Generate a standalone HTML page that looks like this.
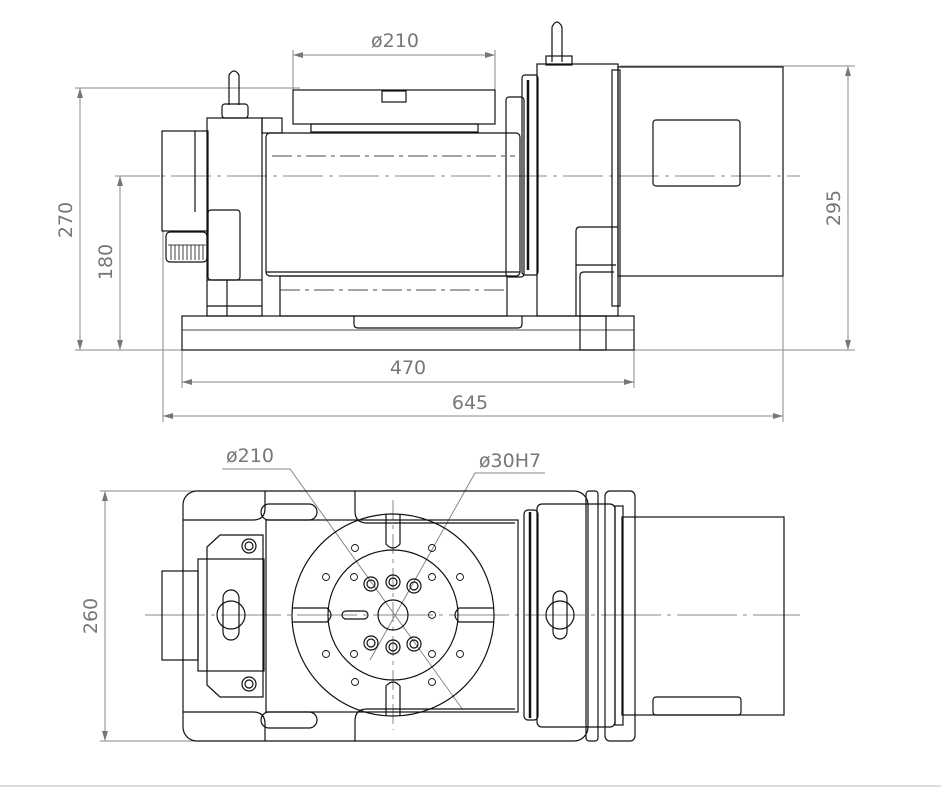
<!DOCTYPE html>
<html><head><meta charset="utf-8"><style>
html,body{margin:0;padding:0;background:#fff;}
svg{display:block;}
text{font-family:"DejaVu Sans","Liberation Sans",sans-serif;fill:#777;font-size:19px;}
</style></head><body>
<svg width="941" height="791" viewBox="0 0 941 791" xmlns="http://www.w3.org/2000/svg">
<defs>
<marker id="a" viewBox="0 0 10 6" refX="10" refY="3" markerWidth="10" markerHeight="6" orient="auto-start-reverse"><path d="M0,0L10,3L0,6z" fill="#777"/></marker>
</defs>
<g fill="none" stroke="#888" stroke-width="1">
<!-- top view dims -->
<line x1="293" y1="55" x2="495" y2="55" marker-start="url(#a)" marker-end="url(#a)"/>
<line x1="293" y1="50" x2="293" y2="90"/><line x1="495" y1="50" x2="495" y2="90"/>
<line x1="75" y1="88" x2="300" y2="88"/>
<line x1="75" y1="350" x2="855" y2="350"/>
<line x1="620" y1="66" x2="855" y2="66"/>
<line x1="115" y1="176" x2="160" y2="176"/>
<line x1="80" y1="88" x2="80" y2="350" marker-start="url(#a)" marker-end="url(#a)"/>
<line x1="120" y1="176" x2="120" y2="350" marker-start="url(#a)" marker-end="url(#a)"/>
<line x1="848" y1="66" x2="848" y2="350" marker-start="url(#a)" marker-end="url(#a)"/>
<line x1="182" y1="382" x2="634" y2="382" marker-start="url(#a)" marker-end="url(#a)"/>
<line x1="182" y1="350" x2="182" y2="388"/><line x1="634" y1="350" x2="634" y2="388"/>
<line x1="163" y1="416" x2="783" y2="416" marker-start="url(#a)" marker-end="url(#a)"/>
<line x1="163" y1="230" x2="163" y2="422"/><line x1="783" y1="276" x2="783" y2="422"/>
<line x1="115" y1="176" x2="800" y2="176" stroke-dasharray="40,6,4,6"/>
<!-- bottom view dims -->
<line x1="100" y1="491" x2="200" y2="491"/><line x1="100" y1="741" x2="200" y2="741"/>
<line x1="105" y1="491" x2="105" y2="741" marker-start="url(#a)" marker-end="url(#a)"/>
<polyline points="222,469 290,469 463,710"/>
<polyline points="545,473 475,473 370,660"/>
<line x1="145" y1="615" x2="800" y2="615" stroke-dasharray="60,6,4,6"/>
<line x1="393" y1="500" x2="393" y2="730" stroke-dasharray="20,5,4,5"/>
<line x1="0" y1="786" x2="941" y2="786" stroke="#ddd" stroke-width="2"/>
</g>
<text x="395" y="47" text-anchor="middle">ø210</text>
<text x="408" y="374" text-anchor="middle">470</text>
<text x="470" y="409" text-anchor="middle">645</text>
<text transform="translate(72,220) rotate(-90)" text-anchor="middle">270</text>
<text transform="translate(112,262) rotate(-90)" text-anchor="middle">180</text>
<text transform="translate(840,208) rotate(-90)" text-anchor="middle">295</text>
<text transform="translate(97,616) rotate(-90)" text-anchor="middle">260</text>
<text x="250" y="462" text-anchor="middle">ø210</text>
<text x="510" y="467" text-anchor="middle">ø30H7</text>

<g fill="none" stroke="#111" stroke-width="1.2">
<!-- TOP VIEW -->
<rect x="182" y="316" width="452" height="34"/>
<line x1="182" y1="330" x2="634" y2="330" stroke-width="0.8"/>
<path d="M354,316 v8 q0,4 4,4 h160 q4,0 4,-4 v-8"/>
<rect x="293" y="90" width="202" height="34"/>
<rect x="382" y="91" width="24" height="11"/>
<rect x="311" y="124" width="167" height="8"/>
<rect x="266" y="133" width="254" height="143" rx="4"/>
<line x1="266" y1="272" x2="520" y2="272"/>
<line x1="272" y1="156" x2="515" y2="156" stroke-dasharray="20,5,4,5" stroke-width="0.8"/>
<rect x="280" y="276" width="227" height="40"/>
<line x1="280" y1="290" x2="507" y2="290" stroke-dasharray="20,5,4,5" stroke-width="0.8"/>
<rect x="207" y="118" width="55" height="198"/>
<line x1="207" y1="280" x2="262" y2="280"/><line x1="207" y1="306" x2="262" y2="306"/>
<line x1="227" y1="280" x2="227" y2="316"/>
<rect x="208" y="210" width="32" height="70" rx="3"/>
<rect x="162" y="131" width="46" height="100"/>
<line x1="195" y1="131" x2="195" y2="212"/>
<rect x="166" y="232" width="41" height="30" rx="4"/>
<path d="M168,245 h38 M171,245 v15 M175,245 v15 M179,245 v15 M183,245 v15 M187,245 v15 M191,245 v15 M195,245 v15 M199,245 v15 M203,245 v15" stroke-width="0.8"/>
<path d="M229,105 v-30 q5,-8 10,0 v30"/><rect x="222" y="104" width="26" height="14" rx="3"/>
<rect x="262" y="118" width="20" height="15"/>
<rect x="506" y="97" width="18" height="180" rx="3"/>
<rect x="522" y="75" width="16" height="200" rx="3"/>
<line x1="528" y1="80" x2="528" y2="270" stroke-width="2.5"/>
<rect x="537" y="64" width="81" height="252"/>
<path d="M552,62 v-35 q5,-10 10,0 v35"/><rect x="546" y="56" width="26" height="9"/>
<path d="M576,316 v-85 q0,-4 4,-4 h38 M576,265 h40 M580,316 v-40 q0,-4 4,-4 h30"/>
<rect x="580" y="316" width="26" height="34"/>
<rect x="618" y="67" width="165" height="209"/>
<rect x="612" y="70" width="8" height="236"/>
<rect x="653" y="120" width="87" height="66" rx="3"/>

<!-- BOTTOM VIEW -->
<rect x="183" y="491" width="405" height="250" rx="14"/>
<rect x="605" y="491" width="30" height="250" rx="5"/>
<rect x="586" y="491" width="12" height="250" rx="3"/>
<path d="M183,520 h70 q12,0 12,-12 v-17 M183,712 h70 q12,0 12,12 v17"/>
<path d="M355,491 v20 q0,12 12,12 h148 M355,741 v-20 q0,-12 12,-12 h148"/>
<rect x="261" y="504" width="56" height="16" rx="8"/><rect x="261" y="712" width="56" height="16" rx="8"/>
<rect x="266" y="520" width="252" height="192"/>
<rect x="162" y="571" width="36" height="89"/>
<path d="M220,535 h43 v162 h-43 l-13,-12 v-138 z"/>
<rect x="198" y="559" width="66" height="112"/>
<circle cx="249" cy="546" r="7"/><circle cx="249" cy="546" r="4"/>
<circle cx="249" cy="684" r="7"/><circle cx="249" cy="684" r="4"/>
<rect x="223" y="590" width="16" height="50" rx="8"/><circle cx="231" cy="615" r="14"/>
<circle cx="393" cy="615" r="101"/>
<circle cx="393" cy="615" r="65"/>
<circle cx="393" cy="615" r="15"/>
<path d="M386,514 v30 q7,8 14,0 v-30 M386,716 v-30 q7,-8 14,0 v30 M292,608 h35 q8,7 0,14 h-35 M494,608 h-35 q-8,7 0,14 h35"/>
<rect x="342" y="611" width="26" height="8" rx="4"/>
<circle cx="371" cy="584" r="7"/><circle cx="371" cy="584" r="4"/>
<circle cx="393" cy="582" r="7"/><circle cx="393" cy="582" r="4"/>
<circle cx="414" cy="586" r="7"/><circle cx="414" cy="586" r="4"/>
<circle cx="371" cy="643" r="7"/><circle cx="371" cy="643" r="4"/>
<circle cx="393" cy="647" r="7"/><circle cx="393" cy="647" r="4"/>
<circle cx="414" cy="644" r="7"/><circle cx="414" cy="644" r="4"/>
<g stroke-width="0.9">
<circle cx="355" cy="548" r="3.5"/><circle cx="432" cy="548" r="3.5"/>
<circle cx="355" cy="682" r="3.5"/><circle cx="432" cy="682" r="3.5"/>
<circle cx="326" cy="577" r="3.5"/><circle cx="460" cy="577" r="3.5"/>
<circle cx="326" cy="654" r="3.5"/><circle cx="460" cy="654" r="3.5"/>
<circle cx="354" cy="577" r="3.5"/><circle cx="432" cy="577" r="3.5"/>
<circle cx="354" cy="654" r="3.5"/><circle cx="432" cy="654" r="3.5"/>
<circle cx="432" cy="615" r="3.5"/>
</g>
<rect x="524" y="510" width="14" height="210" rx="4"/>
<line x1="530" y1="512" x2="530" y2="718" stroke-width="2.5"/>
<rect x="537" y="504" width="78" height="223" rx="5"/>
<rect x="615" y="506" width="8" height="219"/>
<rect x="622" y="517" width="162" height="198"/>
<rect x="653" y="697" width="88" height="18" rx="3"/>
<rect x="553" y="591" width="14" height="48" rx="7"/><circle cx="560" cy="615" r="14"/>
</g>
</svg>
</body></html>
